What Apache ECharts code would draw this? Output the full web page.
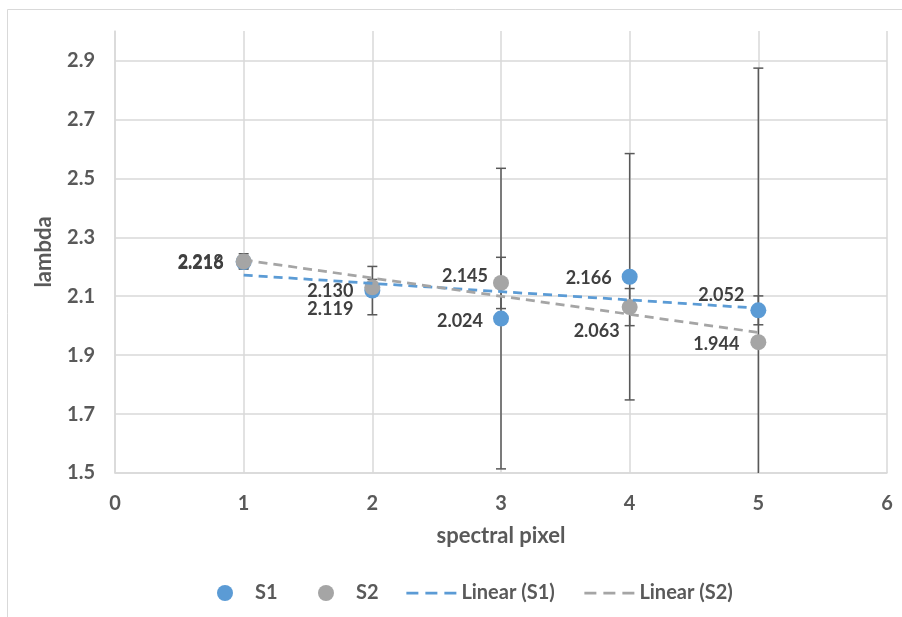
<!DOCTYPE html>
<html>
<head>
<meta charset="utf-8">
<script src="https://cdn.jsdelivr.net/npm/echarts@6/dist/echarts.min.js"></script>
<style>
  html, body { margin: 0; padding: 0; background: #fff; }
  #chart { width: 902px; height: 617px; }
</style>
</head>
<body>
<div id="chart"></div>
<script>
// Measured lambda per spectral pixel, two runs, with their error half-widths
const pixels = [1, 2, 3, 4, 5];
const s1 = [2.216, 2.119, 2.024, 2.166, 2.052];
const s2 = [2.218, 2.130, 2.145, 2.063, 1.944];
const s1Err = [0.020, 0.082, 0.510, 0.418, 0.049];
const s2Err = [0.026, 0.027, 0.087, 0.063, 0.930];
const yTicks = { min: 1.5, max: 3.0, step: 0.2 };
const xTicks = { min: 0, max: 6, step: 1 };
const legendNames = ['S1', 'S2', 'Linear (S1)', 'Linear (S2)'];

// Hand-placed label nudges [dx, dy] (layout only)
const s1LabelShift = [[-7, 1], [-6, 19], [-5, 3], [-5, 1], [-1, -15]];
const s2LabelShift = [[-7, 1], [-6, 4], [0, -7], [3, 24], [-6, 2]];
const legendLeft = [217, 318, 405, 583];

const BLUE = '#5B9BD5';
const GREY = '#A5A5A5';
const TEXT = '#595959';
const FONT = 'Lato';

// Least-squares straight line through a series
function linearFit(xs, ys) {
  const n = xs.length;
  const mx = xs.reduce((a, b) => a + b, 0) / n;
  const my = ys.reduce((a, b) => a + b, 0) / n;
  let sxy = 0, sxx = 0;
  for (let i = 0; i < n; i++) {
    sxy += (xs[i] - mx) * (ys[i] - my);
    sxx += (xs[i] - mx) * (xs[i] - mx);
  }
  const slope = sxy / sxx;
  const icpt = my - slope * mx;
  const x0 = xs[0], x1 = xs[n - 1];
  return [[x0, icpt + slope * x0], [x1, icpt + slope * x1]];
}

function pointData(ys, shifts) {
  return pixels.map((x, i) => ({
    value: [x, ys[i]],
    label: { offset: shifts[i] }
  }));
}

function errorData(ys, errs) {
  return pixels.map((x, i) => [x, ys[i] - errs[i], ys[i] + errs[i]]);
}

function renderErrorBar(params, api) {
  const x = api.value(0);
  const lo = api.coord([x, api.value(1)]);
  const hi = api.coord([x, api.value(2)]);
  const cap = 5;
  const style = { stroke: '#595959', lineWidth: 1.5 };
  return {
    type: 'group',
    children: [
      { type: 'line', shape: { x1: hi[0], y1: hi[1], x2: lo[0], y2: lo[1] }, style },
      { type: 'line', shape: { x1: hi[0] - cap, y1: hi[1], x2: hi[0] + cap, y2: hi[1] }, style },
      { type: 'line', shape: { x1: lo[0] - cap, y1: lo[1], x2: lo[0] + cap, y2: lo[1] }, style }
    ]
  };
}

const pointLabel = {
  show: true,
  position: 'left',
  distance: 5,
  color: '#404040',
  fontFamily: FONT,
  fontWeight: 'bold',
  fontSize: 18,
  formatter: p => p.value[1].toFixed(3)
};

// One legend block per entry so each sits where it belongs
const legends = legendNames.map((name, i) => ({
  left: legendLeft[i],
  top: 583,
  padding: 0,
  itemWidth: 50,
  itemHeight: 16,
  textStyle: { color: TEXT, fontFamily: FONT, fontWeight: 'bold', fontSize: 20 },
  data: [i < 2 ? name : {
    name,
    itemStyle: { opacity: 0 },
    lineStyle: { type: [12, 7], width: 2.75 }
  }]
}));

const chart = echarts.init(document.getElementById('chart'), null, { renderer: 'canvas' });

chart.setOption({
  animation: false,
  backgroundColor: '#ffffff',
  textStyle: { fontFamily: FONT },
  graphic: [{
    type: 'rect',
    shape: { x: 7.5, y: 9.5, width: 900, height: 620 },
    style: { fill: 'none', stroke: '#d9d9d9', lineWidth: 1 },
    silent: true,
    z: -10
  }],
  grid: { left: 115, right: 15, top: 31, bottom: 144 },
  legend: legends,
  xAxis: {
    type: 'value',
    min: xTicks.min,
    max: xTicks.max,
    interval: xTicks.step,
    name: 'spectral pixel',
    nameLocation: 'middle',
    nameGap: 52,
    nameTextStyle: { color: TEXT, fontFamily: FONT, fontWeight: 'bold', fontSize: 22 },
    axisLine: { show: true, lineStyle: { color: '#d9d9d9', width: 1.5 } },
    axisTick: { show: false },
    axisLabel: { color: TEXT, fontFamily: FONT, fontWeight: 'bold', fontSize: 20, margin: 21 },
    splitLine: { show: true, lineStyle: { color: '#d9d9d9', width: 1.5 } }
  },
  yAxis: {
    type: 'value',
    min: yTicks.min,
    max: yTicks.max,
    interval: yTicks.step,
    name: 'lambda',
    nameLocation: 'middle',
    nameGap: 60,
    nameTextStyle: { color: TEXT, fontFamily: FONT, fontWeight: 'bold', fontSize: 22 },
    axisLine: { show: true, lineStyle: { color: '#d9d9d9', width: 1.5 } },
    axisTick: { show: false },
    axisLabel: {
      color: TEXT, fontFamily: FONT, fontWeight: 'bold', fontSize: 20, margin: 20,
      showMaxLabel: false,
      formatter: v => v.toFixed(1)
    },
    splitLine: { show: true, showMaxLine: false, lineStyle: { color: '#d9d9d9', width: 1.5 } }
  },
  series: [
    {
      name: 'S1 error', type: 'custom', renderItem: renderErrorBar,
      data: errorData(s1, s1Err), clip: true, z: 1, silent: true
    },
    {
      name: 'S2 error', type: 'custom', renderItem: renderErrorBar,
      data: errorData(s2, s2Err), clip: true, z: 1, silent: true
    },
    {
      name: 'S1', type: 'scatter', symbol: 'circle', symbolSize: 16,
      itemStyle: { color: BLUE, opacity: 1 },
      label: pointLabel,
      data: pointData(s1, s1LabelShift), z: 3
    },
    {
      name: 'S2', type: 'scatter', symbol: 'circle', symbolSize: 16,
      itemStyle: { color: GREY, opacity: 1 },
      label: pointLabel,
      data: pointData(s2, s2LabelShift), z: 4
    },
    {
      name: 'Linear (S1)', type: 'line', symbol: 'none',
      lineStyle: { color: BLUE, width: 2.75, type: [9, 6] },
      itemStyle: { color: BLUE },
      data: linearFit(pixels, s1), z: 5
    },
    {
      name: 'Linear (S2)', type: 'line', symbol: 'none',
      lineStyle: { color: GREY, width: 2.75, type: [9, 6] },
      itemStyle: { color: GREY },
      data: linearFit(pixels, s2), z: 5
    }
  ]
});
</script>
</body>
</html>
